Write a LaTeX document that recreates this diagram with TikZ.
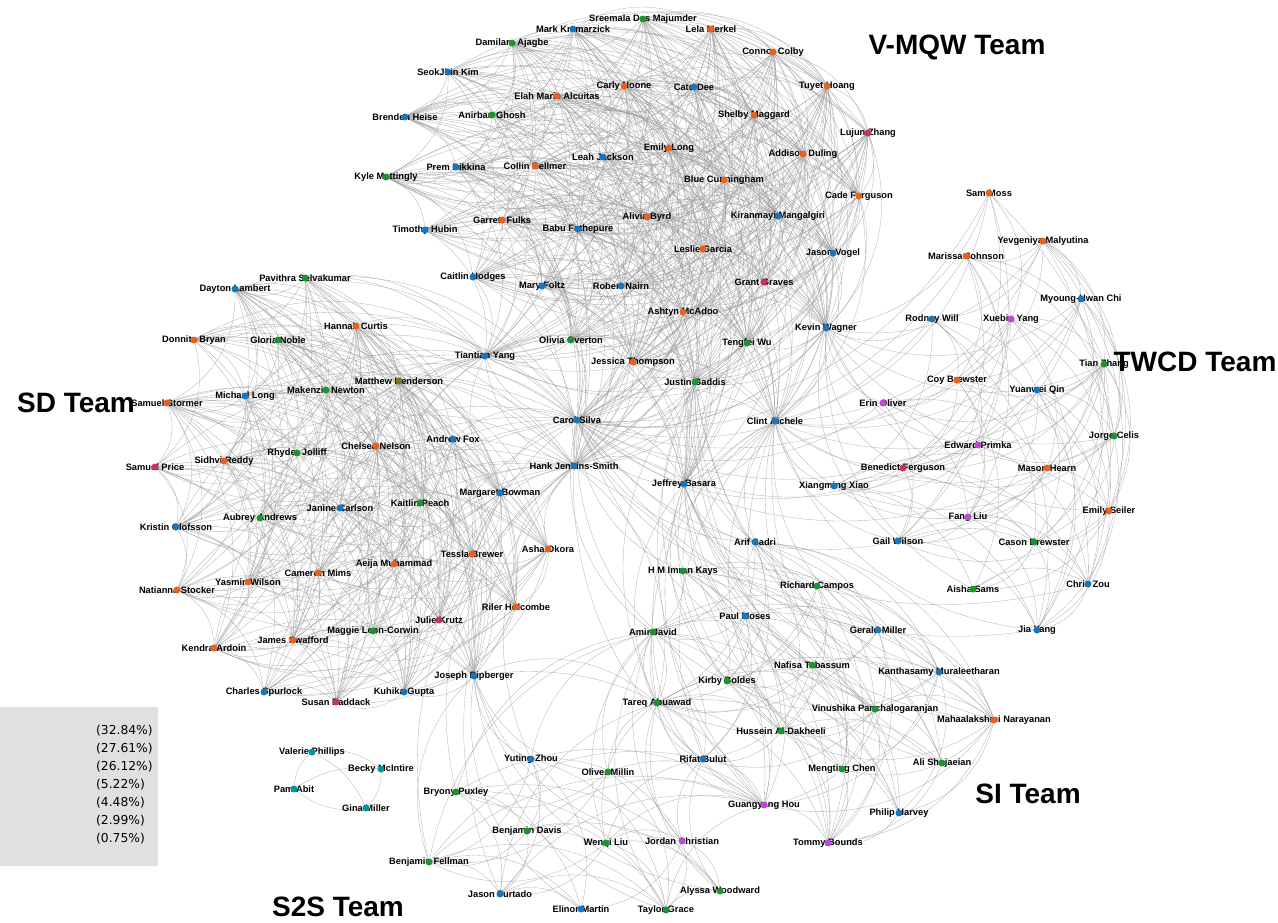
\documentclass[tikz,border=0pt]{standalone}
\usepackage{fontspec}
\setmainfont{Liberation Sans}
\newfontfamily\legfont{DejaVu Sans}
\pgfdeclarelayer{bg}
\pgfsetlayers{bg,main}
\definecolor{cO}{RGB}{232,98,28}
\definecolor{cB}{RGB}{28,118,182}
\definecolor{cG}{RGB}{30,148,48}
\definecolor{cP}{RGB}{200,52,96}
\definecolor{cM}{RGB}{186,76,206}
\definecolor{cY}{RGB}{128,118,20}
\definecolor{cT}{RGB}{0,150,160}
\definecolor{legbg}{RGB}{224,224,224}
\tikzset{
  dot/.style={circle,inner sep=0pt,minimum size=7pt,draw=none},
  lbl/.style={inner sep=0pt,font=\fontsize{9.3}{10}\selectfont\bfseries,text=black},
  team/.style={inner sep=0pt,font=\fontsize{28}{30}\selectfont\bfseries,text=black},
  leg/.style={inner sep=0pt,anchor=west,font=\legfont\fontsize{12.3}{13}\selectfont,text=black},
  edge/.style={draw=black!40,line width=0.33pt,opacity=0.75},
}
\newcommand\mkp[5]{\node[lbl] (#1l) at (#2,#3) {#5}; \node[dot,fill=#4] (#1) at (#2,#3) {};}
\newcommand\mklinks[2]{%
  \foreach \a [count=\i] in {#1} {
    \foreach \b [count=\j] in {#1} {
      \ifnum\j>\i
        \pgfmathparse{rnd}
        \ifdim\pgfmathresult pt<#2pt
          \draw[edge] (\a.center) to[bend left=33] (\b.center);
        \fi
      \fi
    }
  }
}
\begin{document}
\begin{tikzpicture}[x=1pt,y=-1pt]
\useasboundingbox (0,0) rectangle (1278,922);
\pgfmathsetseed{12345}
% legend
\fill[legbg] (0,707) rectangle (158,866);
\node[leg] (l1) at (96,731) {(32.84\%)};
\node[leg] (l2) at (96,749) {(27.61\%)};
\node[leg] (l3) at (96,767) {(26.12\%)};
\node[leg] (l4) at (96,785) {(5.22\%)};
\node[leg] (l5) at (96,803) {(4.48\%)};
\node[leg] (l6) at (96,821) {(2.99\%)};
\node[leg] (l7) at (96,839) {(0.75\%)};
% V-MQW
\mkp{v1}{643}{19}{cG}{Sreemala Das Majumder}
\mkp{v2}{573}{29}{cB}{Mark Krzmarzick}
\mkp{v3}{711}{29}{cO}{Lela Merkel}
\mkp{v4}{512}{43}{cG}{Damilare Ajagbe}
\mkp{v5}{773}{52}{cO}{Connor Colby}
\mkp{v6}{448}{72}{cB}{SeokJhin Kim}
\mkp{v7}{624}{86}{cO}{Carly Noone}
\mkp{v8}{694}{87}{cB}{Cato Dee}
\mkp{v9}{827}{86}{cO}{Tuyet Hoang}
\mkp{v10}{557}{96}{cO}{Elah Marie Alcuitas}
\mkp{v11}{405}{117}{cB}{Brenden Heise}
\mkp{v12}{492}{115}{cG}{Anirban Ghosh}
\mkp{v13}{754}{115}{cO}{Shelby Maggard}
\mkp{v14}{868}{133}{cP}{Lujun Zhang}
\mkp{v15}{669}{148}{cO}{Emily Long}
\mkp{v16}{603}{157}{cB}{Leah Jackson}
\mkp{v17}{803}{154}{cO}{Addison Duling}
\mkp{v18}{456}{167}{cB}{Prem Bikkina}
\mkp{v19}{535}{166}{cO}{Collin Bellmer}
\mkp{v20}{386}{177}{cG}{Kyle Mattingly}
\mkp{v21}{724}{180}{cO}{Blue Cunningham}
\mkp{v22}{859}{196}{cO}{Cade Ferguson}
\mkp{v23}{502}{220}{cO}{Garrett Fulks}
\mkp{v24}{647}{217}{cO}{Alivia Byrd}
\mkp{v25}{778}{216}{cB}{Kiranmayi Mangalgiri}
\mkp{v26}{425}{230}{cB}{Timothy Hubin}
\mkp{v27}{578}{229}{cB}{Babu Fathepure}
\mkp{v28}{703}{249}{cO}{Leslie Garcia}
\mkp{v29}{833}{253}{cB}{Jason Vogel}
\mkp{v30}{473}{277}{cB}{Caitlin Hodges}
\mkp{v31}{542}{286}{cB}{Mary Foltz}
\mkp{v32}{621}{286}{cB}{Robert Nairn}
\mkp{v33}{764}{282}{cP}{Grant Graves}
\mkp{v34}{683}{312}{cO}{Ashtyn McAdoo}
\mkp{v35}{826}{328}{cB}{Kevin Wagner}
\mkp{v36}{571}{340}{cG}{Olivia Overton}
\mkp{v37}{747}{343}{cG}{Tengfei Wu}
\mkp{v38}{485}{356}{cB}{Tiantian Yang}
\mkp{v39}{633}{362}{cO}{Jessica Thompson}
\mkp{v40}{695}{382}{cG}{Justin Gaddis}
% hubs
\mkp{hC}{577}{420}{cB}{Carol Silva}
\mkp{hK}{775}{421}{cB}{Clint Aichele}
\mkp{hH}{574}{466}{cB}{Hank Jenkins-Smith}
\mkp{hJ}{684}{484}{cB}{Jeffrey Basara}
% SD
\mkp{d1}{305}{278}{cG}{Pavithra Selvakumar}
\mkp{d2}{235}{289}{cB}{Dayton Lambert}
\mkp{d3}{356}{326}{cO}{Hannah Curtis}
\mkp{d4}{194}{340}{cO}{Donnita Bryan}
\mkp{d5}{278}{340}{cG}{Gloria Noble}
\mkp{d6}{399}{381}{cY}{Matthew Henderson}
\mkp{d7}{326}{390}{cG}{Makenzie Newton}
\mkp{d8}{245}{396}{cB}{Michael Long}
\mkp{d9}{167}{403}{cO}{Samuel Stormer}
\mkp{d10}{376}{446}{cO}{Chelsea Nelson}
\mkp{d11}{453}{439}{cB}{Andrew Fox}
\mkp{d12}{297}{453}{cG}{Rhyder Jolliff}
\mkp{d13}{224}{461}{cO}{Sidhvi Reddy}
\mkp{d14}{155}{467}{cP}{Samuel Price}
\mkp{d15}{500}{493}{cB}{Margaret Bowman}
\mkp{d16}{340}{508}{cB}{Janine Carlson}
\mkp{d17}{420}{503}{cG}{Kaitlin Peach}
\mkp{d18}{260}{518}{cG}{Aubrey Andrews}
\mkp{d19}{176}{527}{cB}{Kristin Olofsson}
\mkp{d20}{548}{549}{cO}{Asha Okora}
\mkp{d21}{472}{554}{cO}{Tessla Brewer}
\mkp{d22}{394}{564}{cO}{Aeija Muhammad}
\mkp{d23}{318}{573}{cO}{Cameron Mims}
\mkp{d24}{248}{582}{cO}{Yasmin Wilson}
\mkp{d25}{177}{590}{cO}{Natianna Stocker}
\mkp{d26}{516}{607}{cO}{Riler Holcombe}
\mkp{d27}{439}{620}{cP}{Julie Krutz}
\mkp{d28}{373}{631}{cG}{Maggie Leon-Corwin}
\mkp{d29}{293}{640}{cO}{James Swafford}
\mkp{d30}{214}{648}{cO}{Kendra Ardoin}
\mkp{d31}{474}{676}{cB}{Joseph Ripberger}
\mkp{d32}{264}{692}{cB}{Charles Spurlock}
\mkp{d33}{404}{692}{cB}{Kuhika Gupta}
\mkp{d34}{336}{702}{cP}{Susan Paddack}
% TWCD
\mkp{t1}{989}{193}{cO}{Sam Moss}
\mkp{t2}{1043}{241}{cO}{Yevgeniya Malyutina}
\mkp{t3}{966}{256}{cO}{Marissa Johnson}
\mkp{t4}{1081}{299}{cB}{Myoung-Hwan Chi}
\mkp{t5}{932}{319}{cB}{Rodney Will}
\mkp{t6}{1011}{319}{cM}{Xuebin Yang}
\mkp{t7}{1104}{364}{cG}{Tian Zhang}
\mkp{t8}{957}{380}{cO}{Coy Brewster}
\mkp{t9}{1037}{390}{cB}{Yuanwei Qin}
\mkp{t10}{883}{403}{cM}{Erin Oliver}
\mkp{t11}{1114}{436}{cG}{Jorge Celis}
\mkp{t12}{978}{445}{cM}{Edward Primka}
\mkp{t13}{903}{468}{cP}{Benedict Ferguson}
\mkp{t14}{1047}{468}{cO}{Mason Hearn}
\mkp{t15}{834}{486}{cB}{Xiangming Xiao}
\mkp{t16}{968}{517}{cM}{Fang Liu}
\mkp{t17}{1109}{511}{cO}{Emily Seiler}
\mkp{t18}{898}{541}{cB}{Gail Wilson}
\mkp{t19}{1034}{542}{cG}{Cason Brewster}
\mkp{t20}{973}{589}{cG}{Aisha Sams}
\mkp{t21}{1088}{584}{cB}{Chris Zou}
\mkp{t22}{1037}{630}{cB}{Jia Yang}
% SI
\mkp{s1}{755}{542}{cB}{Arif Sadri}
\mkp{s2}{683}{571}{cG}{H M Imran Kays}
\mkp{s3}{817}{586}{cG}{Richard Campos}
\mkp{s4}{745}{616}{cB}{Paul Moses}
\mkp{s5}{653}{632}{cG}{Amir Javid}
\mkp{s6}{878}{630}{cB}{Gerald Miller}
\mkp{s7}{812}{665}{cG}{Nafisa Tabassum}
\mkp{s8}{939}{672}{cB}{Kanthasamy Muraleetharan}
\mkp{s9}{727}{681}{cG}{Kirby Boldes}
\mkp{s10}{657}{703}{cG}{Tareq Abuawad}
\mkp{s11}{875}{709}{cG}{Vinushika Panchalogaranjan}
\mkp{s12}{994}{720}{cO}{Mahaalakshmi Narayanan}
\mkp{s13}{781}{731}{cG}{Hussein Al-Dakheeli}
\mkp{s14}{703}{759}{cB}{Rifat Bulut}
\mkp{s15}{942}{763}{cG}{Ali Shojaeian}
\mkp{s16}{842}{769}{cG}{Mengting Chen}
\mkp{s17}{764}{805}{cM}{Guangyang Hou}
\mkp{s18}{899}{813}{cB}{Philip Harvey}
\mkp{s19}{828}{843}{cM}{Tommy Bounds}
% S2S
\mkp{z1}{531}{759}{cB}{Yuting Zhou}
\mkp{z2}{608}{772}{cG}{Oliver Millin}
\mkp{z3}{456}{792}{cG}{Bryony Puxley}
\mkp{z4}{527}{831}{cG}{Benjamin Davis}
\mkp{z5}{606}{843}{cG}{Wenqi Liu}
\mkp{z6}{682}{841}{cM}{Jordan Christian}
\mkp{z7}{429}{862}{cG}{Benjamin Fellman}
\mkp{z8}{500}{894}{cB}{Jason Furtado}
\mkp{z9}{581}{909}{cB}{Elinor Martin}
\mkp{z10}{666}{910}{cG}{Taylor Grace}
\mkp{z11}{720}{891}{cG}{Alyssa Woodward}
% small group
\mkp{g1}{312}{752}{cT}{Valerie Phillips}
\mkp{g2}{381}{769}{cT}{Becky McIntire}
\mkp{g3}{294}{789}{cT}{Pam Abit}
\mkp{g4}{366}{808}{cT}{Gina Miller}
% team titles
\node[team] (tV) at (957,47) {V-MQW Team};
\node[team] (tT) at (1195,362) {TWCD Team};
\node[team] (tS) at (76,403) {SD Team};
\node[team] (tI) at (1028,794) {SI Team};
\node[team] (tZ) at (338,907) {S2S Team};
% edges
\begin{pgfonlayer}{bg}
\mklinks{v1,v2,v3,v4,v5,v6,v7,v8,v9,v10,v11,v12,v13,v14,v15,v16,v17,v18,v19,v20,v21,v22,v23,v24,v25,v26,v27,v28,v29,v30,v31,v32,v33,v34,v35,v36,v37,v38,v39,v40,hC,hK,hH,hJ}{0.62}
\mklinks{d1,d2,d3,d4,d5,d6,d7,d8,d9,d10,d11,d12,d13,d14,d15,d16,d17,d18,d19,d20,d21,d22,d23,d24,d25,d26,d27,d28,d29,d30,d31,d32,d33,d34,hH,hC,v38}{0.55}
\mklinks{t1,t2,t3,t4,t5,t6,t7,t8,t9,t10,t11,t12,t13,t14,t15,t16,t17,t18,t19,t20,t21,t22,hK,v35,hC}{0.5}
\mklinks{s1,s2,s3,s4,s5,s6,s7,s8,s9,s10,s11,s12,s13,s14,s15,s16,s17,s18,s19,hJ,hK,hC,v40}{0.5}
\mklinks{z1,z2,z3,z4,z5,z6,z7,z8,z9,z10,z11,d31,hH,s14,s17,s10,s5}{0.55}
\draw[edge] (g1.center) to[bend left=24] (g2.center);
\draw[edge] (g1.center) to[bend right=24] (g3.center);
\draw[edge] (g1.center) to[bend left=20] (g4.center);
\draw[edge] (g3.center) to[bend left=20] (g2.center);
\draw[edge] (g3.center) to[bend right=24] (g4.center);
\draw[edge] (g4.center) to[bend right=24] (g2.center);
\end{pgfonlayer}
\end{tikzpicture}
\end{document}
